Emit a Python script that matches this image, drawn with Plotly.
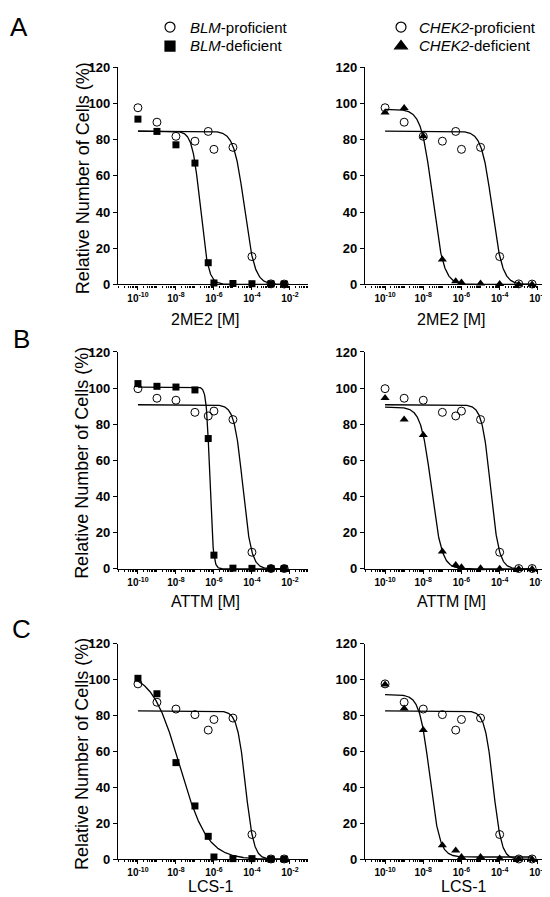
import numpy as np
import plotly.graph_objects as go

# ---------------- data ----------------
dose = [1e-10, 1e-9, 1e-8, 1e-7, 5e-7, 1e-6, 1e-5, 1e-4, 1e-3, 5e-3]

# A: 2ME2
a_prof = [97.7, 89.7, 81.9, 79.2, 84.6, 74.7, 75.8, 15.4, 0.3, 0.2]
a_blm_def = [91.4, 84.6, 77.2, 67.1, 12.0, 0.8, 0.5, 0.4, 0.3, 0.2]
a_chek2_def = [95.0, 97.5, 81.9, 13.8, 1.8, 1.1, 0.5, 0.2, 0.0, 0.0]
# B: ATTM
b_prof = [99.7, 94.4, 93.3, 86.6, 84.6, 87.3, 82.6, 9.2, 0.2, 0.2]
b_blm_def = [102.5, 101.0, 100.6, 99.0, 72.1, 7.6, 0.4, 0.3, 0.2, 0.2]
b_chek2_def = [94.6, 82.7, 74.0, 9.6, 2.2, 0.9, 0.4, 0.1, 0.0, 0.0]
# C: LCS-1
c_prof = [97.6, 87.4, 83.6, 80.5, 71.9, 77.8, 78.6, 13.8, 0.2, 0.2]
c_blm_def = [100.7, 92.1, 53.8, 29.7, 12.8, 1.3, 0.4, 0.4, 0.1, 0.1]
c_chek2_def = [97.2, 83.9, 72.0, 7.8, 4.9, 1.3, 1.3, 0.5, 0.0, 0.0]

# fitted dose-response curves: (top, bottom, logIC50, hill slope)
fit_a_prof = (84.8, 0.0, -4.40, 1.6)
fit_a_blm = (84.8, 0.0, -6.72, 2.1)
fit_a_chek2 = (96.8, 0.0, -7.52, 1.5)
fit_b_prof = (90.8, 0.0, -4.48, 1.95)
fit_b_blm = (100.6, 0.0, -6.22, 4.9)
fit_b_chek2 = (89.5, 0.0, -7.575, 1.6)
fit_c_prof = (82.6, 0.0, -4.345, 2.0)
fit_c_blm = (104.0, 0.0, -7.8, 0.6)
fit_c_chek2 = (91.6, 1.3, -7.665, 1.67)

x_titles = ["2ME2 [M]", "ATTM [M]", "LCS-1"]
panel_letters = ["A", "B", "C"]
y_title = "Relative Number of Cells (%)"
legend_left = ["<i>BLM</i>-proficient", "<i>BLM</i>-deficient"]
legend_right = ["<i>CHEK2</i>-proficient", "<i>CHEK2</i>-deficient"]
x_tickvals = [1e-10, 1e-8, 1e-6, 1e-4, 1e-2]
x_ticktext = ["10<sup>-10</sup>", "10<sup>-8</sup>", "10<sup>-6</sup>", "10<sup>-4</sup>", "10<sup>-2</sup>"]
y_tickvals = [0, 20, 40, 60, 80, 100, 120]

# ---------------- layout geometry (pixels) ----------------
W, H = 550, 897
FONT = "Liberation Sans, Arial, sans-serif"
left_x = (110, 300)
right_x = (357, 548)
rows_y = [(53.3, 274.0), (342.7, 563.3), (639.3, 858.7)]


def xdom(px):
    return [px[0] / W, px[1] / W]


def ydom(py):
    return [1 - py[1] / H, 1 - py[0] / H]


minor_vals = [m * 10.0 ** k for k in range(-12, -1) for m in range(1, 10)
              if not (m == 1 and k % 2 == 0)]

fig = go.Figure()


def curve(p):
    top, bot, c, h = p
    lx = np.linspace(np.log10(dose[0]), np.log10(dose[-1]), 400)
    y = bot + (top - bot) / (1 + 10 ** ((lx - c) * h))
    return 10 ** lx, y


panels = [
    (a_prof, a_blm_def, fit_a_prof, fit_a_blm, "square"),
    (a_prof, a_chek2_def, fit_a_prof, fit_a_chek2, "triangle-up"),
    (b_prof, b_blm_def, fit_b_prof, fit_b_blm, "square"),
    (b_prof, b_chek2_def, fit_b_prof, fit_b_chek2, "triangle-up"),
    (c_prof, c_blm_def, fit_c_prof, fit_c_blm, "square"),
    (c_prof, c_chek2_def, fit_c_prof, fit_c_chek2, "triangle-up"),
]

for i, (prof, defi, fp, fd, sym) in enumerate(panels):
    n = i + 1
    xa = "x" if n == 1 else f"x{n}"
    ya = "y" if n == 1 else f"y{n}"
    for p in (fp, fd):
        cx, cy = curve(p)
        fig.add_trace(go.Scatter(x=cx, y=cy, mode="lines", line=dict(color="black", width=1.3),
                                 xaxis=xa, yaxis=ya, showlegend=False, cliponaxis=False,
                                 hoverinfo="skip"))
    fig.add_trace(go.Scatter(x=dose, y=prof, mode="markers",
                             marker=dict(symbol="circle-open", size=8, color="black",
                                         line=dict(width=1, color="black")),
                             xaxis=xa, yaxis=ya, showlegend=False, cliponaxis=False))
    fig.add_trace(go.Scatter(x=dose, y=defi, mode="markers",
                             marker=dict(symbol=sym, size=7 if sym == "square" else 8, color="black"),
                             xaxis=xa, yaxis=ya, showlegend=False, cliponaxis=False))

    row = i // 2
    colx = left_x if i % 2 == 0 else right_x
    xkey = "xaxis" if n == 1 else f"xaxis{n}"
    ykey = "yaxis" if n == 1 else f"yaxis{n}"
    fig.update_layout(**{
        xkey: dict(type="log", range=[-11.05, -1.05], domain=xdom(colx), anchor=ya,
                   showline=True, linecolor="black", linewidth=1.3, mirror=False,
                   ticks="outside", ticklen=4, tickwidth=1.2, tickcolor="black",
                   tickmode="array", tickvals=x_tickvals, ticktext=x_ticktext,
                   tickfont=dict(family=FONT, size=10, color="black", weight="bold"),
                   showgrid=False, zeroline=False, layer="below traces",
                   minor=dict(tickmode="array", tickvals=minor_vals, ticks="outside",
                              ticklen=2, tickwidth=1, tickcolor="black", showgrid=False)),
        ykey: dict(range=[0, 120], domain=ydom(rows_y[row]), anchor=xa,
                   showline=True, linecolor="black", linewidth=1.3,
                   ticks="outside", ticklen=4, tickwidth=1.2, tickcolor="black",
                   tickmode="array", tickvals=y_tickvals,
                   tickfont=dict(family=FONT, size=13, color="black", weight="bold"),
                   showgrid=False, zeroline=False, layer="below traces"),
    })

# legend symbols (names drawn as annotations for exact spacing)
leg_items = [
    ("legend", "circle-open"),
    ("legend", "square"),
    ("legend2", "circle-open"),
    ("legend2", "triangle-up"),
]
for lg, sym in leg_items:
    fig.add_trace(go.Scatter(x=[None], y=[None], mode="markers", name=" ", legend=lg,
                             marker=dict(symbol=sym, size=10 if sym != "triangle-up" else 11,
                                         color="black", line=dict(width=1.2, color="black"))))

leg_common = dict(xanchor="left", yanchor="top", bgcolor="rgba(0,0,0,0)",
                  font=dict(family=FONT, size=11, color="black"), tracegroupgap=0,
                  itemsizing="trace", borderwidth=0)
fig.update_layout(
    legend=dict(x=(162 - 20) / W, y=1 + 2.5 / H, **leg_common),
    legend2=dict(x=(393 - 20) / W, y=1 + 2.5 / H, **leg_common),
)

ann = []
for texts, px in ((legend_left, 180), (legend_right, 409)):
    for t, py in zip(texts, (13, 31)):
        ann.append(dict(text=t, x=px / W, y=1 - py / H, xref="paper", yref="paper",
                        showarrow=False, xanchor="left", yanchor="middle",
                        font=dict(family=FONT, size=15, color="black")))

xtitle_pos = [((197, 310), (443, 310)), ((197, 596), (443, 596)), ((202, 886), (455, 886))]
for r in range(3):
    for (px, py) in xtitle_pos[r]:
        ann.append(dict(text=x_titles[r], x=px / W, y=1 - py / H, xref="paper", yref="paper",
                        showarrow=False, xanchor="center", yanchor="middle",
                        font=dict(family=FONT, size=16, color="black")))
    cy = (rows_y[r][0] + rows_y[r][1]) / 2 + 3
    ann.append(dict(text=y_title, x=74.5 / W, y=1 - cy / H, xref="paper", yref="paper",
                    showarrow=False, textangle=-90, xanchor="center", yanchor="middle",
                    font=dict(family=FONT, size=18, color="black")))
letter_pos = [(11, 12), (13, 330), (13, 624)]
for r in range(3):
    ann.append(dict(text=panel_letters[r], x=letter_pos[r][0] / W, y=1 - letter_pos[r][1] / H,
                    xref="paper", yref="paper", showarrow=False, xanchor="center", yanchor="middle",
                    font=dict(family=FONT, size=26, color="black")))

fig.update_layout(width=W, height=H, margin=dict(l=0, r=0, t=0, b=0),
                  paper_bgcolor="white", plot_bgcolor="white", annotations=ann,
                  showlegend=True)

fig.write_html("out.html")
